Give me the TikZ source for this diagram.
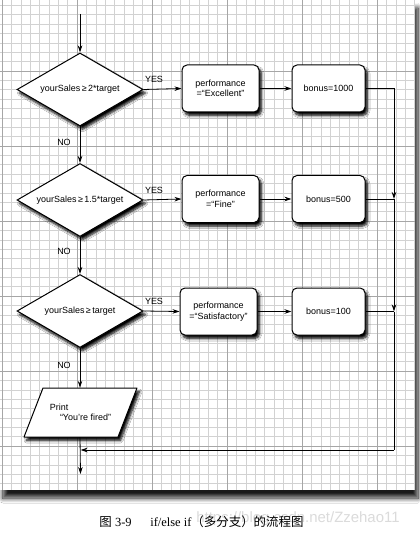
\documentclass[tikz,border=0pt]{standalone}
\usepackage{fontspec}
\setmainfont{Liberation Sans}
\newfontfamily\capserif{Liberation Serif}
\newfontfamily\cjk{Noto Sans CJK SC}
\usetikzlibrary{shapes.geometric,arrows.meta,shadows.blur}
\tikzset{
  diagfont/.style={font=\fontsize{9}{10.5}\selectfont},
  fineline/.style={draw=gray!35, line width=0.5bp},
  majorline/.style={draw=gray!70, line width=0.7bp},
  flow/.style={draw=black, line width=0.8bp},
  arr/.style={flow, -{Stealth[length=7bp,width=4.5bp]}},
  boxshadow/.style={blur shadow={shadow xshift=2.5bp, shadow yshift=-3.5bp, shadow blur steps=6, shadow blur radius=2.5bp, shadow opacity=100}},
  decision/.style={diamond, draw=black, line width=1bp, fill=white, minimum width=126bp, minimum height=73bp, inner sep=0pt, aspect=1.7, diagfont, boxshadow},
  procbox/.style={rectangle, rounded corners=5bp, draw=black, line width=1bp, fill=white, minimum width=77bp, minimum height=47bp, align=center, inner sep=1bp, diagfont, boxshadow},
  bonusbox/.style={procbox, minimum width=73bp},
  ioshape/.style={draw=black, line width=1bp, fill=white, line join=round, boxshadow},
  iotext/.style={rectangle, minimum width=94bp, minimum height=49bp, align=left, inner sep=0pt, diagfont},
  lab/.style={diagfont, inner sep=0pt},
}
\begin{document}
\begin{tikzpicture}[x=1bp,y=-1bp]
\useasboundingbox (0,0) rectangle (419,541);
\fill[white] (0,0) rectangle (419,541);
% grid paper
\fill[white, blur shadow={shadow xshift=3bp, shadow yshift=-8bp, shadow blur steps=10, shadow blur radius=5bp, shadow opacity=90}] (0,0) rectangle (415,490);
\foreach \k in {0,...,44} \draw[fineline] ({2+9.375*\k},0) -- ({2+9.375*\k},490);
\foreach \k in {-7,...,44} \draw[fineline] (0,{71+9.375*\k}) -- (415,{71+9.375*\k});
\foreach \k in {0,...,5} \draw[majorline] ({2+75*\k},0) -- ({2+75*\k},490);
\foreach \k in {0,...,5} \draw[majorline] (0,{71+75*\k}) -- (415,{71+75*\k});

% nodes
\node[decision] (d1) at (80,89.5) {yourSales\,≥\,2*target};
\node[decision] (d2) at (80,200) {yourSales\,≥\,1.5*target};
\node[decision] (d3) at (80,311) {yourSales\,≥\,target};
\node[procbox] (b1) at (220.5,88.5) {performance\\=“Excellent”};
\node[procbox] (b2) at (220.5,199) {performance\\=“Fine”};
\node[procbox] (b3) at (218.5,311.5) {performance\\=“Satisfactory”};
\node[bonusbox] (c1) at (328.5,88.5) {bonus=1000};
\node[bonusbox] (c2) at (328.5,199) {bonus=500};
\node[bonusbox] (c3) at (328.5,311.5) {bonus=100};

% output parallelogram (top shifted right)
\coordinate (pa) at (43,388);
\coordinate (pb) at (137,388);
\coordinate (pc) at (118,437);
\coordinate (pd) at (24,437);
\draw[ioshape] (pa) -- (pb) -- (pc) -- (pd) -- cycle;
\node[iotext] (p) at (80.5,412.5) {Print\\\hspace*{10bp}“You’re fired”};

\coordinate (start) at (80,14);
\coordinate (r1) at (394,88.5);
\coordinate (r2) at (394,199);
\coordinate (r3) at (394,311.5);
\coordinate (r4) at (394,450);
\coordinate (m) at (80.5,450);
\coordinate (fin) at (80.5,474);

% connectors
\draw[arr] (start) -- (d1.north);
\draw[arr] (d1.east) -- (b1.west);
\draw[arr] (b1.east) -- (c1.west);
\draw[arr] (d1.south) -- (d2.north);
\draw[arr] (d2.east) -- (b2.west);
\draw[arr] (b2.east) -- (c2.west);
\draw[arr] (d2.south) -- (d3.north);
\draw[arr] (d3.east) -- (b3.west);
\draw[arr] (b3.east) -- (c3.west);
\draw[arr] (d3.south) -- (d3.south |- p.north);
\draw[flow] (c1.east) -- (r1);
\draw[arr] (r1) -- (r2);
\draw[flow] (c2.east) -- (r2);
\draw[arr] (r2) -- (r3);
\draw[flow] (c3.east) -- (r3);
\draw[flow] (r3) -- (r4);
\draw[arr] (r4) -- (m);
\draw[arr] (d3.south |- p.south) -- (fin);

% labels
\node[lab] (y1) at (154,79) {YES};
\node[lab] (y2) at (154,190) {YES};
\node[lab] (y3) at (154,301.5) {YES};
\node[lab] (n1) at (64,142) {NO};
\node[lab] (n2) at (64,251) {NO};
\node[lab] (n3) at (64,365) {NO};

% caption
\node[text=gray!28, font=\fontsize{15}{15}\selectfont, inner sep=0pt] (wm) at (298,519) {https://blog.csdn.net/Zzehao11};
\node[font=\fontsize{12.5}{14}\selectfont, inner sep=0pt] (cap) at (201.5,522) {{\cjk 图}\hspace{0.25em}{\capserif 3-9}\hspace{1.5em}{\capserif if/else if}{\cjk （多分支）的流程图}};
\end{tikzpicture}
\end{document}
